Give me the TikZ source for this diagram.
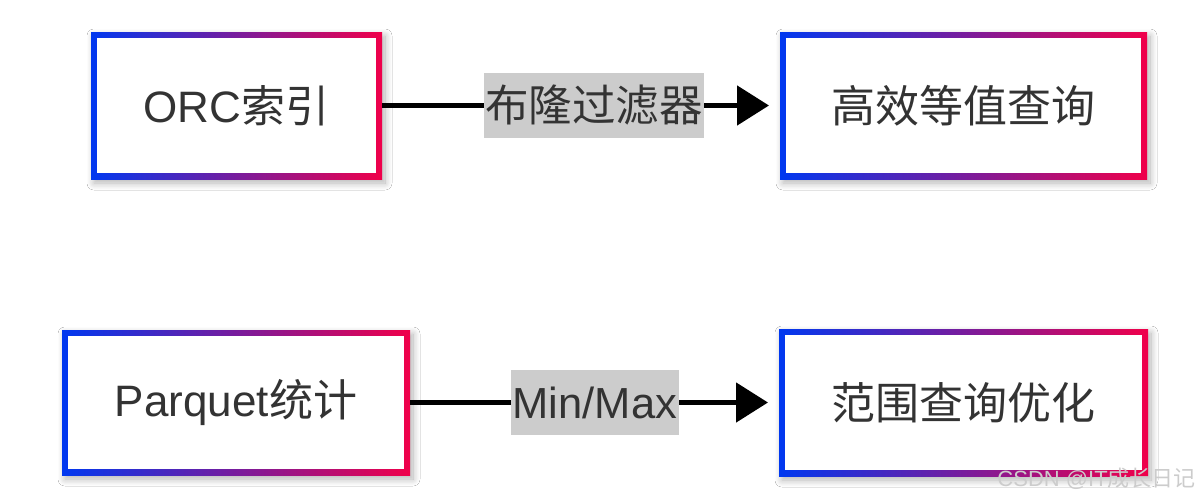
\documentclass[tikz,border=0pt]{standalone}
\usepackage{fontspec}
\setmainfont{Liberation Sans}
\newfontfamily\cjk{Noto Sans CJK SC}
\usetikzlibrary{arrows.meta,shadows.blur}
\definecolor{gblue}{HTML}{0038F0}
\definecolor{gred}{HTML}{F0004A}
\definecolor{txt}{HTML}{333333}
\definecolor{lgray}{HTML}{CCCCCC}
\tikzset{
  box/.style 2 args={minimum width=#1, minimum height=#2, inner sep=0pt, outer sep=0pt,
    left color=gblue, right color=gred, text=txt, font=\fontsize{44}{44}\selectfont,
    blur shadow={shadow xshift=3pt, shadow yshift=-4pt, shadow blur radius=7pt, shadow opacity=30, shadow blur steps=12},
    path picture={\fill[white] ([xshift=6pt,yshift=-6pt]path picture bounding box.north west)
      rectangle ([xshift=-6pt,yshift=6pt]path picture bounding box.south east);}},
  arr/.style={line width=5pt, -{Triangle[length=32pt,width=39pt]}, shorten >=11pt},
  lab/.style={fill=lgray, text=txt, font=\fontsize{43.5}{43.5}\selectfont, inner xsep=1.5pt,
    inner ysep=0pt, minimum height=65pt},
}
\begin{document}
\begin{tikzpicture}[x=1pt,y=-1pt]
\useasboundingbox[fill=white] (0,0) rectangle (1200,498);
\node[box={291pt}{147pt}] (o1) at (236.5,105.5) {ORC{\cjk 索引}};
\node[box={367pt}{147pt}] (e1) at (963.5,105.5) {\cjk 高效等值查询};
\node[box={348pt}{145pt}] (p1) at (236,402.5) {Parquet{\cjk 统计}};
\node[box={369pt}{147pt}] (r1) at (963.5,402.5) {\cjk 范围查询优化};
\draw[arr] (o1) -- node[lab, pos=0.533] (l1) {\cjk 布隆过滤器} (e1);
\draw[arr] (p1) -- node[lab, pos=0.501] (l2) {Min/Max} (r1);
\node[anchor=east, text=gray!40, font=\fontsize{22}{22}\selectfont, inner sep=0pt] (wm) at (1196,479) {CSDN @IT{\cjk 成长日记}};
\end{tikzpicture}
\end{document}
